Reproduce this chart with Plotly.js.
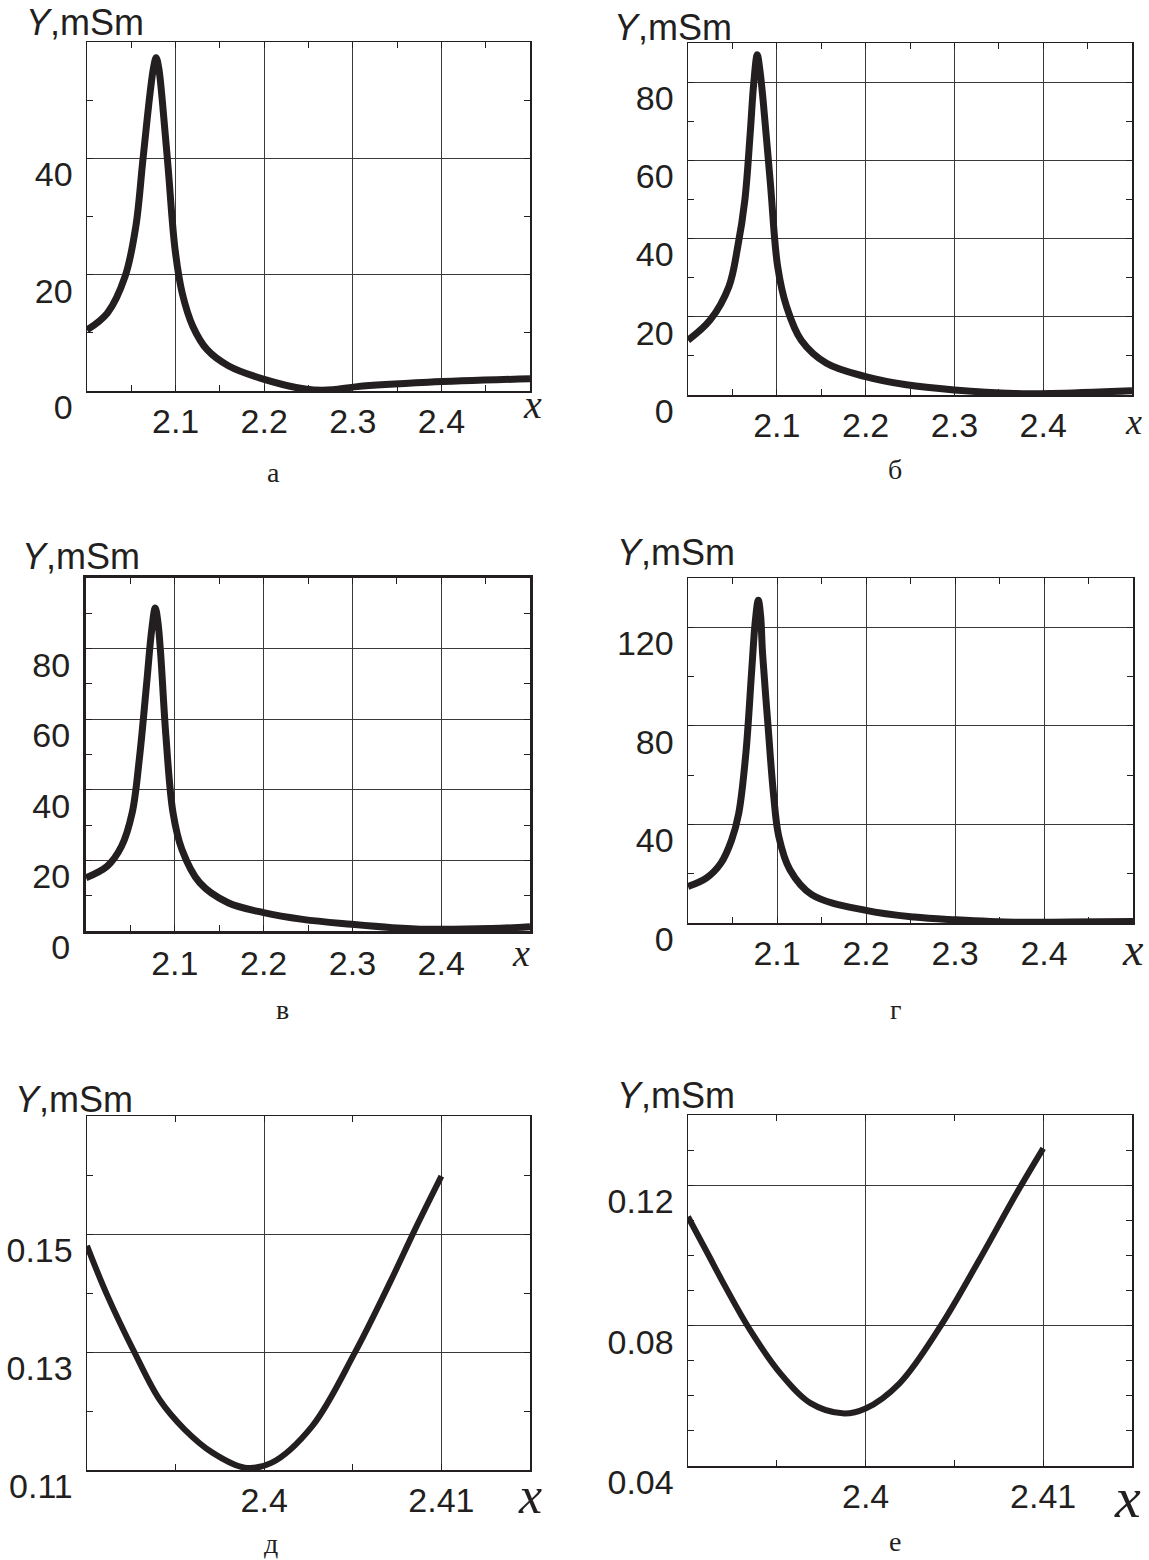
<!DOCTYPE html>
<html>
<head>
<meta charset="utf-8">
<script src="https://cdn.plot.ly/plotly-3.0.1.min.js"></script>
<style>
  html, body { margin: 0; padding: 0; background: #ffffff; }
  #chart { width: 1149px; height: 1560px; }
</style>
</head>
<body>
<div id="chart"></div>
<script>
// ---------------- DATA ----------------
// Panel а
const A_X = [2.000, 2.023, 2.043, 2.055, 2.063, 2.071, 2.075, 2.078, 2.081, 2.085, 2.0915, 2.0995, 2.1075, 2.1195, 2.1356, 2.160, 2.200, 2.248, 2.277, 2.305, 2.385, 2.500];
const A_Y = [10.5, 13.4, 19.7, 28.2, 39.6, 51.0, 55.5, 57.3, 55.5, 49.9, 38.5, 24.2, 16.8, 11.1, 7.1, 4.3, 2.0, 0.3, 0.2, 0.75, 1.5, 2.1];
// Panel б
const B_X = [2.000, 2.025, 2.046, 2.056, 2.064, 2.070, 2.074, 2.078, 2.081, 2.0846, 2.0928, 2.101, 2.111, 2.1275, 2.156, 2.200, 2.246, 2.300, 2.368, 2.409, 2.500];
const B_Y = [14.0, 19.2, 27.7, 37.9, 49.8, 66.8, 79.6, 87.0, 83.0, 75.3, 54.0, 32.8, 22.6, 14.0, 8.1, 4.7, 2.6, 1.3, 0.4, 0.4, 1.1];
// Panel в
const V_X = [2.000, 2.024, 2.040, 2.052, 2.060, 2.068, 2.074, 2.078, 2.081, 2.084, 2.090, 2.098, 2.108, 2.128, 2.160, 2.200, 2.244, 2.299, 2.345, 2.385, 2.457, 2.500];
const V_Y = [15.1, 18.4, 24.0, 33.5, 48.6, 69.3, 85.3, 91.5, 87.5, 78.8, 55.2, 33.5, 23.1, 13.7, 8.0, 5.2, 3.3, 1.9, 0.95, 0.5, 0.7, 1.2];
// Panel г
const G_X = [2.000, 2.0205, 2.037, 2.049, 2.057, 2.065, 2.0716, 2.0757, 2.079, 2.0815, 2.0838, 2.090, 2.096, 2.102, 2.1145, 2.139, 2.200, 2.254, 2.301, 2.368, 2.429, 2.500];
const G_Y = [14.8, 18.2, 24.3, 33.7, 44.5, 68.8, 102.6, 122.8, 131.0, 125.0, 109.3, 79.6, 52.6, 35.1, 21.6, 11.5, 5.1, 2.4, 1.3, 0.3, 0.4, 0.6];
// Panel д
const D_X = [2.3900, 2.3911, 2.3927, 2.3941, 2.3955, 2.3971, 2.3989, 2.4004, 2.4027, 2.4051, 2.4071, 2.4085, 2.4100];
const D_Y = [0.148, 0.1399, 0.1298, 0.1219, 0.1169, 0.1129, 0.1104, 0.1112, 0.1174, 0.1298, 0.1418, 0.1507, 0.1598];
// Panel е
const E_X = [2.3900, 2.3911, 2.3921, 2.3935, 2.3952, 2.3969, 2.3987, 2.4000, 2.4019, 2.4042, 2.4064, 2.4085, 2.4100];
const E_Y = [0.111, 0.1006, 0.0911, 0.0787, 0.0664, 0.0579, 0.0550, 0.0564, 0.0635, 0.0797, 0.0987, 0.1177, 0.1305];

// Tick values / labels
const WIDE_X_TICKS = [2.1, 2.2, 2.3, 2.4];
const WIDE_X_LABELS = ["2.1", "2.2", "2.3", "2.4"];
const NARROW_X_TICKS = [2.40, 2.41];
const NARROW_X_LABELS = ["2.4", "2.41"];
const A_Y_TICKS = [0, 20, 40];
const B_Y_TICKS = [0, 20, 40, 60, 80];
const V_Y_TICKS = [0, 20, 40, 60, 80];
const G_Y_TICKS = [0, 40, 80, 120];
const D_Y_TICKS = [0.11, 0.13, 0.15];
const D_Y_LABELS = ["0.11", "0.13", "0.15"];
const E_Y_TICKS = [0.04, 0.08, 0.12];
const E_Y_LABELS = ["0.04", "0.08", "0.12"];
const Y_TITLE = "<i>Y</i>,mSm";
const X_TITLE = "x";
const CAPTIONS = ["а", "б", "в", "г", "д", "е"];

// ---------------- LAYOUT HELPERS ----------------
const W = 1149, H = 1560;
const px = x => x / W;
const py = y => 1 - y / H;
const INK = '#231f20';
const SANS = 'Liberation Sans, Arial, sans-serif';
const SERIF = 'Liberation Serif, Times New Roman, serif';

function xAxis(box, range, tickvals, ticktext, minorDtick, anchor, lw) {
  return {
    domain: [px(box[0]), px(box[1])], range: range, anchor: anchor,
    tickmode: 'array', tickvals: tickvals, ticktext: ticktext,
    showgrid: true, gridcolor: '#3a3a3a', gridwidth: 1,
    showline: true, linecolor: INK, linewidth: lw, mirror: 'ticks',
    ticks: 'inside', ticklen: 6, tickcolor: INK, tickwidth: 1,
    minor: { tick0: range[0], dtick: minorDtick, ticks: 'inside', ticklen: 6, tickcolor: INK, tickwidth: 1, showgrid: false },
    zeroline: false, fixedrange: true, automargin: false,
    tickfont: { family: SANS, size: 34, color: INK },
    ticklabelstandoff: 0
  };
}
function yAxis(box, range, tickvals, ticktext, minorDtick, anchor, lw) {
  return {
    domain: [py(box[3]), py(box[2])], range: range, anchor: anchor,
    tickmode: 'array', tickvals: tickvals, ticktext: ticktext,
    showgrid: true, gridcolor: '#3a3a3a', gridwidth: 1,
    showline: true, linecolor: INK, linewidth: lw, mirror: 'ticks',
    ticks: 'inside', ticklen: 6, tickcolor: INK, tickwidth: 1,
    minor: { tick0: range[0], dtick: minorDtick, ticks: 'inside', ticklen: 6, tickcolor: INK, tickwidth: 1, showgrid: false },
    zeroline: false, fixedrange: true, automargin: false,
    tickfont: { family: SANS, size: 34, color: INK },
    ticklabelshift: 16, ticklabelstandoff: 6
  };
}

// boxes: [left, right, top, bottom] in pixels
const BOX = {
  a: [87, 530, 42, 391],
  b: [688, 1132, 43, 395],
  v: [86, 530, 578, 931],
  g: [688, 1133, 578, 923],
  d: [87, 530, 1116, 1470],
  e: [688, 1132, 1115, 1466]
};

const lineStyle = w => ({ color: INK, width: w, shape: 'spline', smoothing: 1.0 });
const traces = [
  { x: A_X, y: A_Y, xaxis: 'x', yaxis: 'y', mode: 'lines', line: lineStyle(7), hoverinfo: 'skip' },
  { x: B_X, y: B_Y, xaxis: 'x2', yaxis: 'y2', mode: 'lines', line: lineStyle(7), hoverinfo: 'skip' },
  { x: V_X, y: V_Y, xaxis: 'x3', yaxis: 'y3', mode: 'lines', line: lineStyle(7), hoverinfo: 'skip' },
  { x: G_X, y: G_Y, xaxis: 'x4', yaxis: 'y4', mode: 'lines', line: lineStyle(7), hoverinfo: 'skip' },
  { x: D_X, y: D_Y, xaxis: 'x5', yaxis: 'y5', mode: 'lines', line: lineStyle(6), hoverinfo: 'skip' },
  { x: E_X, y: E_Y, xaxis: 'x6', yaxis: 'y6', mode: 'lines', line: lineStyle(6), hoverinfo: 'skip' }
];

function ann(text, x, y, size, family, xanchor) {
  return { text: text, x: px(x), y: py(y), xref: 'paper', yref: 'paper',
           xanchor: xanchor || 'center', yanchor: 'middle', showarrow: false,
           font: { family: family, size: size, color: INK } };
}

const annotations = [
  // Y titles
  ann(Y_TITLE, 24, 23, 36, SANS, 'left'),
  ann(Y_TITLE, 612, 27, 36, SANS, 'left'),
  ann(Y_TITLE, 20, 556, 36, SANS, 'left'),
  ann(Y_TITLE, 615, 552, 36, SANS, 'left'),
  ann(Y_TITLE, 13, 1099, 36, SANS, 'left'),
  ann(Y_TITLE, 615, 1095, 36, SANS, 'left'),
  // x labels
  ann('<i>' + X_TITLE + '</i>', 532, 405, 40, SERIF),
  ann('<i>' + X_TITLE + '</i>', 1133, 422, 36, SERIF),
  ann('<i>' + X_TITLE + '</i>', 521, 953, 38, SERIF),
  ann('<i>' + X_TITLE + '</i>', 1133, 950, 46, SERIF),
  ann('<i>' + X_TITLE + '</i>', 530, 1495, 52, SERIF),
  ann('<i>' + X_TITLE + '</i>', 1127, 1497, 58, SERIF),
  // captions
  ann(CAPTIONS[0], 273, 472, 28, SERIF),
  ann(CAPTIONS[1], 895, 469, 28, SERIF),
  ann(CAPTIONS[2], 282, 1009, 28, SERIF),
  ann(CAPTIONS[3], 895, 1009, 28, SERIF),
  ann(CAPTIONS[4], 271, 1543, 28, SERIF),
  ann(CAPTIONS[5], 895, 1541, 28, SERIF)
];

const layout = {
  width: W, height: H,
  margin: { l: 0, r: 0, t: 0, b: 0, pad: 0 },
  paper_bgcolor: '#ffffff', plot_bgcolor: '#ffffff',
  showlegend: false,
  xaxis:  xAxis(BOX.a, [2.0, 2.5], WIDE_X_TICKS, WIDE_X_LABELS, 0.05, 'y', 1.5),
  yaxis:  yAxis(BOX.a, [0, 60], A_Y_TICKS, A_Y_TICKS.map(String), 10, 'x', 1.5),
  xaxis2: xAxis(BOX.b, [2.0, 2.5], WIDE_X_TICKS, WIDE_X_LABELS, 0.05, 'y2', 1.5),
  yaxis2: yAxis(BOX.b, [0, 90], B_Y_TICKS, B_Y_TICKS.map(String), 10, 'x2', 1.5),
  xaxis3: xAxis(BOX.v, [2.0, 2.5], WIDE_X_TICKS, WIDE_X_LABELS, 0.05, 'y3', 3),
  yaxis3: yAxis(BOX.v, [0, 100], V_Y_TICKS, V_Y_TICKS.map(String), 10, 'x3', 3),
  xaxis4: xAxis(BOX.g, [2.0, 2.5], WIDE_X_TICKS, WIDE_X_LABELS, 0.05, 'y4', 1.5),
  yaxis4: yAxis(BOX.g, [0, 140], G_Y_TICKS, G_Y_TICKS.map(String), 20, 'x4', 1.5),
  xaxis5: xAxis(BOX.d, [2.39, 2.415], NARROW_X_TICKS, NARROW_X_LABELS, 0.005, 'y5', 1.5),
  yaxis5: yAxis(BOX.d, [0.11, 0.17], D_Y_TICKS, D_Y_LABELS, 0.01, 'x5', 1.5),
  xaxis6: xAxis(BOX.e, [2.39, 2.415], NARROW_X_TICKS, NARROW_X_LABELS, 0.005, 'y6', 1.5),
  yaxis6: yAxis(BOX.e, [0.04, 0.14], E_Y_TICKS, E_Y_LABELS, 0.01, 'x6', 1.5),
  annotations: annotations
};

Plotly.newPlot('chart', traces, layout, { staticPlot: true, displayModeBar: false });
</script>
</body>
</html>
